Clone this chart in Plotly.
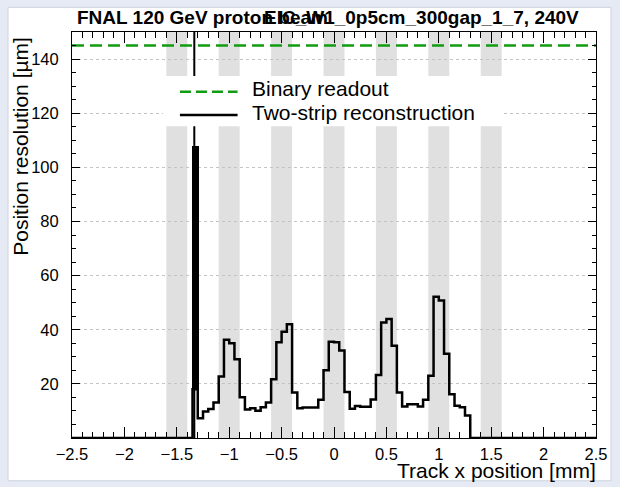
import plotly.graph_objects as go

# ---------------- data ----------------
x_min, x_max = -2.5, 2.5
bin_width = 0.05
y_min, y_max = 0, 150

# two-strip reconstruction resolution per 0.05 mm bin, from -2.5 to 2.5 mm [um]
resolution = [
    0, 0, 0, 0, 0, 0, 0, 0, 0, 0,          # -2.50 .. -2.05
    0, 0, 0, 0, 0, 0, 0, 0, 0, 0,          # -2.00 .. -1.55
    0, 0, 0, 18.0,                         # -1.50 .. -1.35
    7.3, 9.8, 10.7, 13.1, 22.7, 36.3,      # -1.30 .. -1.05
    35.0, 29.1, 15.1, 10.5, 11.0, 10.1,    # -1.00 .. -0.75
    11.4, 13.1, 21.7, 35.4, 39.3, 42.0,    # -0.70 .. -0.45
    16.8, 11.0, 11.3, 11.3, 11.3, 14.1,    # -0.40 .. -0.15
    25.0, 35.6, 35.4, 32.3, 17.0, 10.8,    # -0.10 ..  0.15
    11.8, 11.5, 11.5, 14.2, 23.3, 42.7,    #  0.20 ..  0.45
    44.0, 34.1, 16.8, 11.6, 12.5, 12.5,    #  0.50 ..  0.75
    11.6, 14.1, 23.0, 52.2, 50.8, 31.1,    #  0.80 ..  1.05
    16.2, 11.9, 11.4, 8.3,                 #  1.10 ..  1.25
    0, 0, 0, 0, 0, 0, 0, 0, 0, 0,          #  1.30 ..  1.75
    0, 0, 0, 0, 0, 0, 0, 0, 0, 0,          #  1.80 ..  2.25
    0, 0, 0, 0,                            #  2.30 ..  2.45
]
binary_resolution = 145.0

# off-scale spike at the left strip edge
spike_x = -1.333
spike_line = [0, 400]
spike_band_x = -1.321
spike_band_width = 0.064
spike_band_low, spike_band_high = 18.0, 108.0

# strip positions (grey bands)
strip_centers = [-1.5, -1.0, -0.5, 0.0, 0.5, 1.0, 1.5]
strip_width = 0.2

y_tickvals = [20, 40, 60, 80, 100, 120, 140]

title_left = "FNAL 120 GeV proton beam"
title_right = "EIC_W1_0p5cm_300gap_1_7, 240V"
x_title = "Track x position [mm]"
y_title = "Position resolution [µm]"
legend_labels = ["Binary readout", "Two-strip reconstruction"]

# ---------------- figure ----------------
FONT = "Liberation Sans, Arial, Helvetica, sans-serif"
GREEN = "#109c10"
BAND = "#e0e0e0"
PAGE = "#e6eaf4"

edges = [x_min + i * bin_width for i in range(len(resolution) + 1)]
step_y = resolution + [resolution[-1]]

fig = go.Figure()

# green dashed binary readout
fig.add_trace(go.Scatter(
    x=[x_min, x_max], y=[binary_resolution, binary_resolution],
    mode="lines", line=dict(color=GREEN, width=2.5, dash="12px,6px"),
    hoverinfo="skip"))

# spike thin line
fig.add_trace(go.Scatter(
    x=[spike_x, spike_x], y=spike_line, mode="lines",
    line=dict(color="black", width=2), hoverinfo="skip"))

# spike thick band
fig.add_trace(go.Bar(
    x=[spike_band_x], y=[spike_band_high - spike_band_low], base=[spike_band_low],
    width=[spike_band_width], marker=dict(color="black", line=dict(width=0)),
    hoverinfo="skip"))

# histogram step line
fig.add_trace(go.Scatter(
    x=edges, y=step_y, mode="lines", line_shape="hv",
    line=dict(color="black", width=2.5), hoverinfo="skip", cliponaxis=False))

shapes = []
px_l, px_r, px_t, px_b = 72, 596, 31.7, 438.2
def paper_x(px):
    return (px - px_l) / (px_r - px_l)
def paper_y(py):
    return (px_b - py) / (px_b - px_t)

# white canvas on the light-blue page
shapes.append(dict(type="rect", xref="paper", yref="paper",
                   x0=paper_x(8), x1=paper_x(611), y0=paper_y(481), y1=paper_y(7),
                   fillcolor="white", line=dict(color="#cdd2dc", width=1), layer="below"))

for c in strip_centers:
    shapes.append(dict(type="rect", xref="x", yref="y",
                       x0=c - strip_width / 2, x1=c + strip_width / 2,
                       y0=y_min, y1=y_max, fillcolor=BAND, line=dict(width=0),
                       layer="below"))

# legend box (white, no border) covering bands
leg_x0, leg_x1 = -1.63, 1.62
leg_y0, leg_y1 = 115.2, 133.7
shapes.append(dict(type="rect", xref="x", yref="y", x0=leg_x0, x1=leg_x1,
                   y0=leg_y0, y1=leg_y1, fillcolor="white", line=dict(width=0),
                   layer="above"))
# legend samples
samp_x0, samp_x1 = -1.47, -0.92
shapes.append(dict(type="line", xref="x", yref="y", x0=samp_x0, x1=samp_x1,
                   y0=127.9, y1=127.9, line=dict(color=GREEN, width=2.5, dash="11px,5px"),
                   layer="above"))
shapes.append(dict(type="line", xref="x", yref="y", x0=samp_x0, x1=samp_x1,
                   y0=119.3, y1=119.3, line=dict(color="black", width=2.5),
                   layer="above"))

annotations = [
    dict(text=legend_labels[0], xref="x", yref="y", x=-0.80, y=129.0,
         xanchor="left", yanchor="middle", showarrow=False,
         font=dict(family=FONT, size=21, color="black")),
    dict(text=legend_labels[1], xref="x", yref="y", x=-0.80, y=120.2,
         xanchor="left", yanchor="middle", showarrow=False,
         font=dict(family=FONT, size=21, color="black")),
    dict(text="<b>" + title_left + "</b>", xref="paper", yref="paper",
         x=paper_x(75), y=paper_y(17), xanchor="left", yanchor="middle",
         showarrow=False, font=dict(family=FONT, size=19, color="black")),
    dict(text="<b>" + title_right + "</b>", xref="paper", yref="paper",
         x=paper_x(581), y=paper_y(17), xanchor="right", yanchor="middle",
         showarrow=False, font=dict(family=FONT, size=19, color="black")),
    dict(text=x_title, xref="paper", yref="paper",
         x=paper_x(598), y=paper_y(471), xanchor="right", yanchor="middle",
         showarrow=False, font=dict(family=FONT, size=21, color="black")),
    dict(text=y_title, xref="paper", yref="paper", textangle=-90,
         x=paper_x(21), y=paper_y(35), xanchor="center", yanchor="top",
         showarrow=False, font=dict(family=FONT, size=21, color="black")),
]

fig.update_layout(
    width=620, height=487,
    margin=dict(l=72, r=24, t=32, b=49),
    paper_bgcolor=PAGE, plot_bgcolor="white",
    showlegend=False, shapes=shapes, annotations=annotations,
    font=dict(family=FONT, color="black"),
    bargap=0,
)

fig.update_xaxes(
    range=[x_min, x_max], tickmode="linear", tick0=0, dtick=0.5,
    ticks="inside", ticklen=11, tickwidth=1, tickcolor="black",
    minor=dict(dtick=0.1, tick0=0, ticks="inside", ticklen=6, tickcolor="black", showgrid=False),
    showline=True, linecolor="black", linewidth=1, mirror="allticks",
    showgrid=False, zeroline=False, ticklabelstandoff=1,
    tickfont=dict(family=FONT, size=16.5, color="black"),
)
fig.update_yaxes(
    range=[y_min, y_max], tickmode="array", tickvals=y_tickvals,
    ticks="inside", ticklen=8, tickwidth=1, tickcolor="black",
    minor=dict(dtick=5, tick0=0, ticks="inside", ticklen=4, tickcolor="black", showgrid=False),
    showline=True, linecolor="black", linewidth=1, mirror="allticks",
    showgrid=True, gridcolor="#c4c4c4", griddash="dot", gridwidth=1,
    zeroline=False, ticklabelstandoff=9,
    tickfont=dict(family=FONT, size=16.5, color="black"),
)

fig.write_html(
    "out.html",
    config={"displayModeBar": False},
    post_script="document.body.style.margin='0px';document.body.style.background='" + PAGE + "';",
)
